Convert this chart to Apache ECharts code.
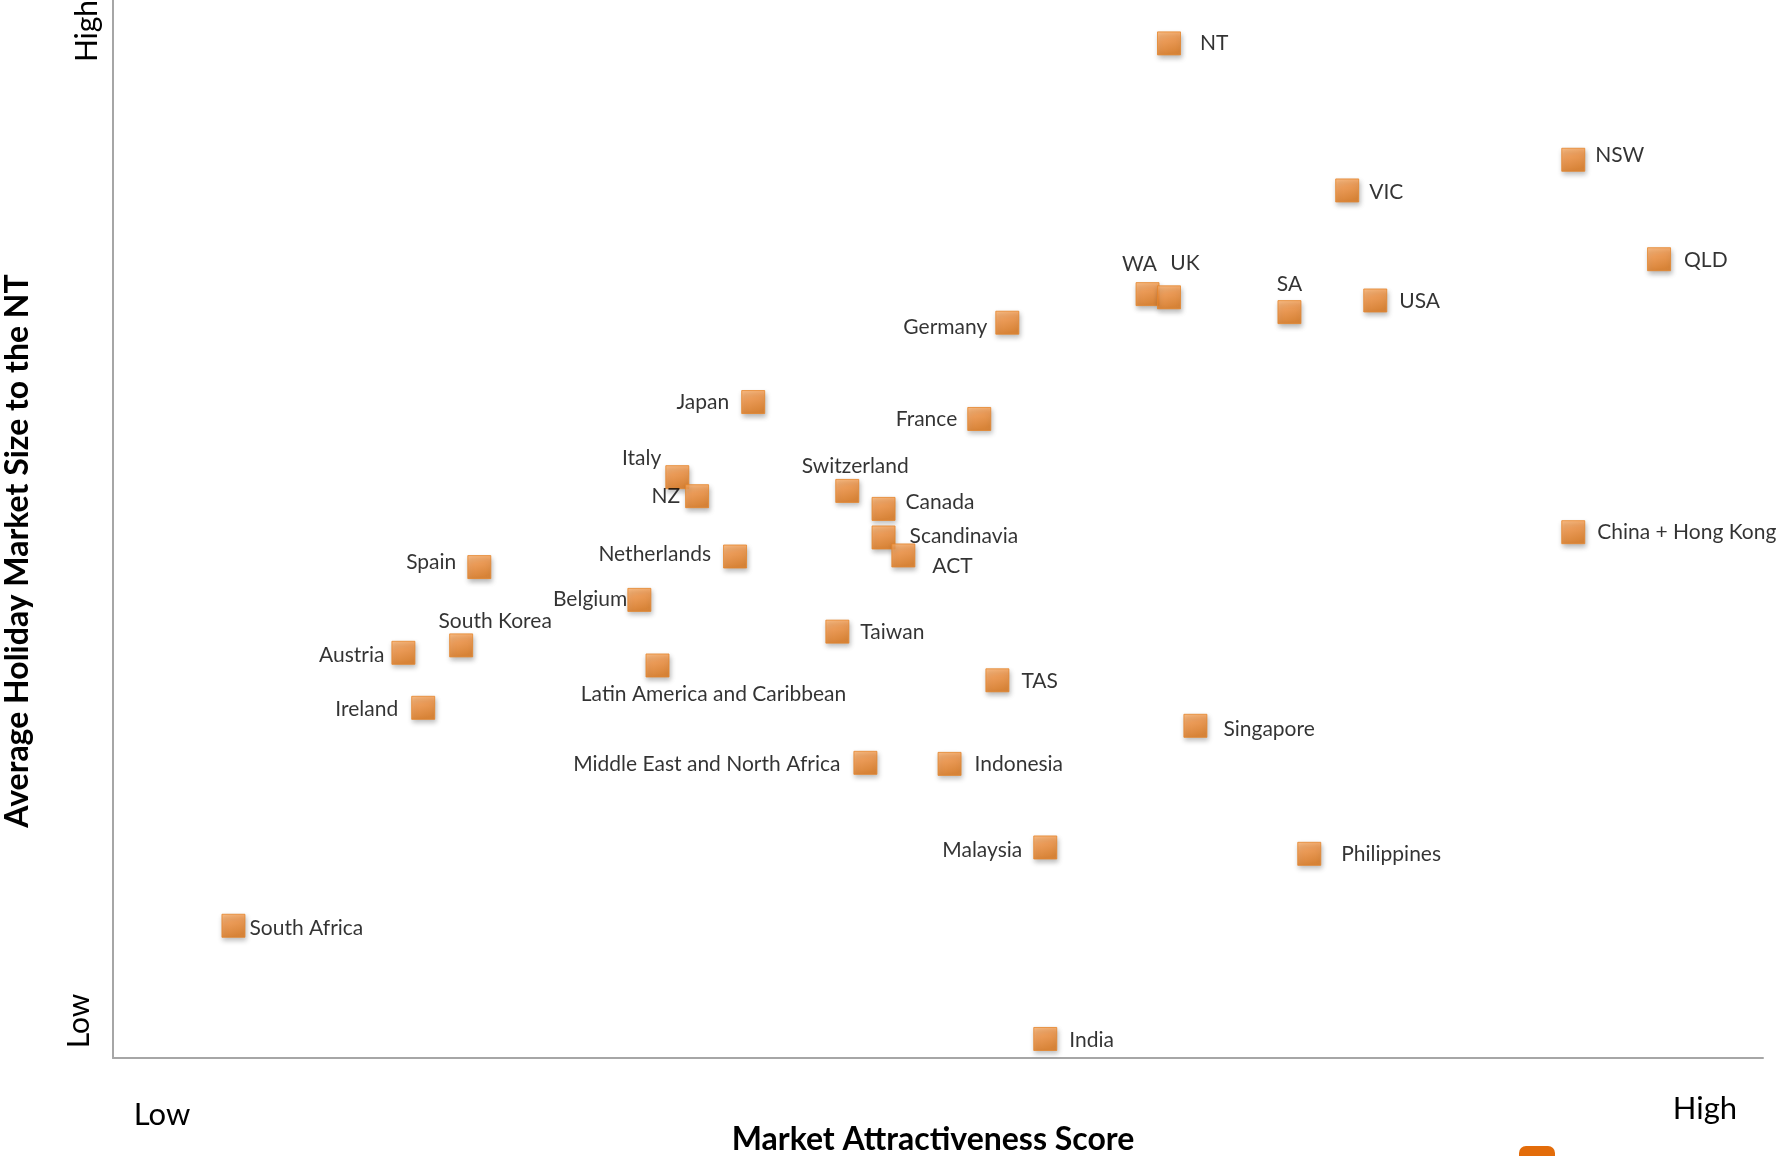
<!DOCTYPE html>
<html><head><meta charset="utf-8">
<script src="https://cdn.jsdelivr.net/npm/echarts@6/dist/echarts.min.js"></script>
<style>html,body{margin:0;padding:0;background:#fff}#c{width:1782px;height:1156px}</style>
</head><body><div id="c"></div><script>
// ---- data (arbitrary 0-100 scores) ----
const names = ['NT','NSW','VIC','QLD','WA','UK','SA','USA','Germany','Japan','France','Italy','NZ','Switzerland','Canada','Scandinavia','ACT','China + Hong Kong','Spain','Netherlands','Belgium','South Korea','Austria','Taiwan','Latin America and Caribbean','TAS','Ireland','Singapore','Middle East and North Africa','Indonesia','Malaysia','Philippines','South Africa','India'];
const attractiveness = [64.0,88.5,74.8,93.7,62.7,64.0,71.3,76.5,54.2,38.8,52.5,34.2,35.4,44.5,46.7,46.7,47.9,88.5,22.2,37.7,31.9,21.1,17.6,43.9,33.0,53.6,18.8,65.6,45.6,50.7,56.5,72.5,7.3,56.5];
const marketSize = [95.9,84.9,82.0,75.5,72.2,71.9,70.5,71.6,69.5,62.0,60.4,54.9,53.1,53.6,51.9,49.2,47.5,49.7,46.4,47.4,43.3,39.0,38.3,40.3,37.1,35.7,33.1,31.4,27.9,27.8,19.9,19.3,12.5,1.8];
const xTickLabels = ['Low','High'];
const yTickLabels = ['Low','High'];
const xTitle = 'Market Attractiveness Score';
const yTitle = 'Average Holiday Market Size to the NT';

// ---- label placement (style only) : [position, distance, dx, dy] ----
const labelLayout = {
  'NT':['right',19,0,0],'NSW':['right',10,0,-5],'VIC':['right',10,0,2],'QLD':['right',13,0,1],
  'WA':['top',7,-8,0],'UK':['top',12,16,0],'SA':['top',5,0,0],'USA':['right',12,0,1],
  'Germany':['left',8,0,5],'Japan':['left',12,0,0],'France':['left',10,0,0],'Italy':['left',4,0,-19],
  'NZ':['left',5,0,0],'Switzerland':['top',2,8,0],'Canada':['right',10,0,-7],'Scandinavia':['right',14,0,-1],
  'ACT':['right',17,0,11],'China + Hong Kong':['right',12,0,0],'Spain':['left',11,0,-5],'Netherlands':['left',12,0,-2],
  'Belgium':['left',0,0,-1],'South Korea':['top',2,34,0],'Austria':['left',7,0,2],'Taiwan':['right',11,0,1],
  'Latin America and Caribbean':['bottom',6,56,0],'TAS':['right',12,0,1],'Ireland':['left',13,0,1],'Singapore':['right',16,0,3],
  'Middle East and North Africa':['left',13,0,1],'Indonesia':['right',13,0,0],'Malaysia':['left',11,0,3],'Philippines':['right',20,0,0],
  'South Africa':['right',4,0,2],'India':['right',12,0,1]
};

const FONT = 'Lato, "Open Sans", sans-serif';
const seriesData = names.map((n,i)=>{
  const L = labelLayout[n];
  return {name:n, value:[attractiveness[i], marketSize[i]],
    label:{position:L[0], distance:L[1], offset:[L[2],L[3]]}};
});

const chart = echarts.init(document.getElementById('c'), null, {renderer:'canvas'});
chart.setOption({
  backgroundColor:'#ffffff',
  animation:false,
  grid:{left:113, right:19, top:0, bottom:98, containLabel:false, outerBoundsMode:'none'},
  xAxis:{type:'value', min:0, max:100, interval:100,
    axisLine:{show:true, onZero:false, lineStyle:{color:'#a6a6a6', width:2}},
    axisTick:{show:false}, axisLabel:{show:false}, splitLine:{show:false},
    name:xTitle, nameLocation:'middle', nameGap:66,
    nameTextStyle:{fontFamily:FONT, fontWeight:'bold', fontSize:32, color:'#000', padding:[0,10,0,0]}},
  yAxis:{type:'value', min:0, max:100, interval:100,
    axisLine:{show:true, onZero:false, lineStyle:{color:'#a6a6a6', width:2}},
    axisTick:{show:false}, axisLabel:{show:false}, splitLine:{show:false},
    name:yTitle, nameLocation:'middle', nameGap:79, nameRotate:90,
    nameTextStyle:{fontFamily:FONT, fontWeight:'bold', fontSize:32, color:'#000', padding:[0,44,0,0]}},
  graphic:[
    {type:'text', x:162, y:1115, style:{text:xTickLabels[0], font:'31px '+FONT, fill:'#000', textAlign:'center', textVerticalAlign:'middle'}},
    {type:'text', x:1705, y:1109, style:{text:xTickLabels[1], font:'31px '+FONT, fill:'#000', textAlign:'center', textVerticalAlign:'middle'}},
    {type:'text', x:79, y:1021, rotation:Math.PI/2, style:{text:yTickLabels[0], font:'30px '+FONT, fill:'#000', textAlign:'center', textVerticalAlign:'middle'}},
    {type:'text', x:87, y:31, rotation:Math.PI/2, style:{text:yTickLabels[1], font:'30px '+FONT, fill:'#000', textAlign:'center', textVerticalAlign:'middle'}},
    {type:'rect', left:1519, top:1146, shape:{width:36, height:24, r:7}, style:{fill:'#e36c0a'}}
  ],
  series:[{
    type:'scatter', symbol:'rect', symbolSize:23,
    data:seriesData,
    itemStyle:{
      color:{type:'linear', x:0, y:0, x2:0.3, y2:1, colorStops:[
        {offset:0, color:'#fcb06a'},{offset:0.45, color:'#f7933f'},{offset:1, color:'#e07718'}]},
      borderColor:'#e5842a', borderWidth:1,
      shadowBlur:5, shadowOffsetX:1, shadowOffsetY:3, shadowColor:'rgba(0,0,0,0.35)'
    },
    label:{show:true, formatter:'{b}', fontFamily:FONT, fontSize:21, color:'#000'},
    emphasis:{disabled:true}
  }]
});
</script></body></html>
